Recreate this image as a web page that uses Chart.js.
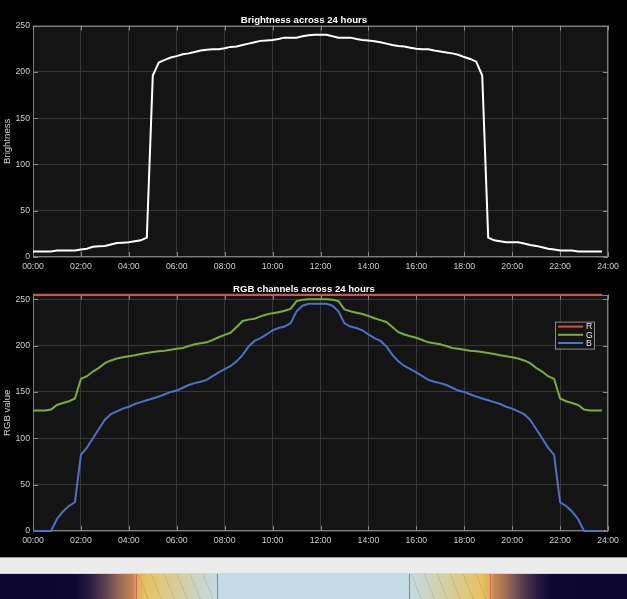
<!DOCTYPE html>
<html><head><meta charset="utf-8">
<script src="https://cdn.jsdelivr.net/npm/chart.js@4/dist/chart.umd.min.js"></script>
<style>
html,body{margin:0;padding:0;background:#000;width:627px;height:599px;overflow:hidden;}
canvas{position:absolute;left:0;}
#c1{top:0;}
#c2{top:280px;}
#sepline{position:absolute;left:0;top:557px;width:627px;height:1px;background:#9a9a9a;}
#graystrip{position:absolute;left:0;top:558px;width:627px;height:15px;background:#ececec;}
#grad{position:absolute;left:0;top:573px;width:627px;height:26px;border-top:1px solid #d4d4d4;box-sizing:border-box;
background:linear-gradient(to right,#0c0530 0px,#0e0732 75px,#2a1a40 90px,#5a4050 105px,#9a6a58 120px,#c98453 133px,#dcae5c 137px,#e5c462 146px,#d6cc98 175px,#c9d6c8 200px,#c4dbe5 217px,#c4dbe5 409px,#c9d6c8 426px,#d6cc98 452px,#e5c462 481px,#dcae5c 490px,#c98453 494px,#9a6a58 507px,#5a4050 522px,#2a1a40 537px,#0e0732 552px,#0c0530 627px);}
.hatch{position:absolute;top:0;height:100%;background:repeating-linear-gradient(68deg,rgba(0,0,0,0) 0px,rgba(0,0,0,0) 11px,rgba(185,105,75,0.24) 11px,rgba(185,105,75,0.24) 12px);}
.mark{position:absolute;top:0;height:100%;width:1px;background:#d0685a;}
</style>
</head><body>
<canvas id="c1" width="627" height="283"></canvas>
<canvas id="c2" width="627" height="277"></canvas>
<div id="sepline"></div>
<div id="graystrip"></div>
<div id="grad">
  <div class="hatch" style="left:136px;width:81px"></div>
  <div class="hatch" style="left:409px;width:81px"></div>
  <div class="mark" style="left:136px"></div>
  <div class="mark" style="left:217px"></div>
  <div class="mark" style="left:409px"></div>
  <div class="mark" style="left:490px"></div>
</div>
<script>
// ---- data ----
const times = ["00:00","00:15","00:30","00:45","01:00","01:15","01:30","01:45","02:00","02:15","02:30","02:45",
"03:00","03:15","03:30","03:45","04:00","04:15","04:30","04:45","05:00","05:15","05:30","05:45",
"06:00","06:15","06:30","06:45","07:00","07:15","07:30","07:45","08:00","08:15","08:30","08:45",
"09:00","09:15","09:30","09:45","10:00","10:15","10:30","10:45","11:00","11:15","11:30","11:45",
"12:00","12:15","12:30","12:45","13:00","13:15","13:30","13:45","14:00","14:15","14:30","14:45",
"15:00","15:15","15:30","15:45","16:00","16:15","16:30","16:45","17:00","17:15","17:30","17:45",
"18:00","18:15","18:30","18:45","19:00","19:15","19:30","19:45","20:00","20:15","20:30","20:45",
"21:00","21:15","21:30","21:45","22:00","22:15","22:30","22:45","23:00","23:15","23:30","23:45"];

const brightness = [6,6,6,6,7,7,7,7,8,9,11,11.5,
12,13.5,15,15.5,16,17,18,21,196,210,213,215.5,
217,219,220,221.5,223,224,224.5,224.5,225.5,227,227.5,229,
230.5,232,233.5,234,234.5,235.5,237,237,237,238.5,239.5,240,
240,240,238.5,237,237,237,235.5,234.5,234,233,232,230.5,
229,228,227.5,226,225,224.5,224.5,223,222,221,220,218.5,
216,214,211,196,21,18,17,16,16,16,14.5,13,
12,10.5,9,8,7,7,7,6,6,6,6,6];

const red = [255,255,255,255,255,255,255,255,255,255,255,255,
255,255,255,255,255,255,255,255,255,255,255,255,
255,255,255,255,255,255,255,255,255,255,255,255,
255,255,255,255,255,255,255,255,255,255,255,255,
255,255,255,255,255,255,255,255,255,255,255,255,
255,255,255,255,255,255,255,255,255,255,255,255,
255,255,255,255,255,255,255,255,255,255,255,255,
255,255,255,255,255,255,255,255,255,255,255,255];

const green = [130,130,130,131,136,138,140,143,164,167,172,176,
181,184,186,187.5,188.5,189.5,191,192,193,194,194.5,195.5,
196.5,197.5,199.5,201.5,202.5,203.5,206,209,211.5,214,220,226.5,
228,229,231.5,233.5,235,236,237.5,239.5,248,249.5,250,250,
250,250,249.5,248,239,237,235.5,234,232,229.5,227.5,225.5,
220,214.5,212,210,208.5,206,203.5,202.5,201.5,199.5,197.5,196.5,
195.5,194.5,194,193,192,191,189.5,188.5,187.5,186,184,181,
176,172,167,164,143,140,138,136,131,130,130,130];

const blue = [0,0,0,0,13,21,27,31,82,90,100,110,
120,126,129,132,134,137,139,141,143,145,147.5,150,
151.5,154.5,157.5,159.5,161,163,167,171,174.5,178,183,190,
199,205,208,212,216.5,219,220.5,224,237,243,245,245,
245,245,243,237,224,220.5,219,216.5,212,208,205,199,
190,183,178,174.5,171,167,163,161,159.5,157.5,154.5,151.5,
150,147.5,145,143,141,139,137,134,132,129,126,120,
110,100,90,82,31,27,21,13,0,0,0,0];

const xTickHours = [0,2,4,6,8,10,12,14,16,18,20,22,24];
const xTickLabels = ["00:00","02:00","04:00","06:00","08:00","10:00","12:00","14:00","16:00","18:00","20:00","22:00","24:00"];
const yTicks = [0,50,100,150,200,250];

// ---- styling ----
const FONT = "'Liberation Sans', Arial, Helvetica, sans-serif";
const TICK_COLOR = '#cfcfcf';
const GRID = '#383838';
const BOX = '#7c7c7c';
const PLOT_BG = '#141414';

function hoursOf(t){ const p = t.split(':'); return (+p[0]) + (+p[1])/60; }
function toXY(vals){ return vals.map((v,i)=>({x:hoursOf(times[i]), y:v})); }

const framePlugin = {
  id:'frame',
  beforeDraw(chart){
    const {ctx, chartArea:a} = chart;
    ctx.save();
    ctx.fillStyle = PLOT_BG;
    ctx.fillRect(a.left, a.top, a.right-a.left, a.bottom-a.top);
    ctx.restore();
  },
  beforeDatasetsDraw(chart){
    const {ctx, chartArea:a, scales} = chart;
    ctx.save();
    ctx.strokeStyle = BOX;
    ctx.lineWidth = 1;
    ctx.strokeRect(Math.round(a.left)+0.5, Math.round(a.top)+0.5, Math.round(a.right-a.left)-1, Math.round(a.bottom-a.top)-1);
    ctx.strokeStyle = '#8a8a8a';
    const L = 5;
    ctx.beginPath();
    scales.x.ticks.forEach(t=>{
      const px = Math.round(scales.x.getPixelForValue(t.value))+0.5;
      ctx.moveTo(px, a.bottom); ctx.lineTo(px, a.bottom-L);
      ctx.moveTo(px, a.top); ctx.lineTo(px, a.top+L);
    });
    scales.y.ticks.forEach(t=>{
      const py = Math.round(scales.y.getPixelForValue(t.value))+0.5;
      ctx.moveTo(a.left, py); ctx.lineTo(a.left+L, py);
      ctx.moveTo(a.right, py); ctx.lineTo(a.right-L, py);
    });
    ctx.stroke();
    ctx.restore();
  }
};

const legendPlugin = {
  id:'insideLegend',
  afterDatasetsDraw(chart, args, opts){
    if (!opts || !opts.show) return;
    const {ctx, chartArea:a} = chart;
    const bx = a.right - 53, by = a.top + 27, bw = 39, bh = 27;
    ctx.save();
    ctx.fillStyle = PLOT_BG;
    ctx.fillRect(bx, by, bw, bh);
    ctx.strokeStyle = '#8c8c8c';
    ctx.lineWidth = 1;
    ctx.strokeRect(bx+0.5, by+0.5, bw, bh);
    ctx.font = '8.7px ' + FONT;
    ctx.textBaseline = 'middle';
    ctx.textAlign = 'left';
    chart.data.datasets.forEach((ds,i)=>{
      const y = by + 5 + i*8.2;
      ctx.strokeStyle = ds.borderColor;
      ctx.lineWidth = 2;
      ctx.beginPath(); ctx.moveTo(bx+3, y); ctx.lineTo(bx+28, y); ctx.stroke();
      ctx.fillStyle = '#e8e8e8';
      ctx.fillText(ds.label, bx+31, y+0.5);
    });
    ctx.restore();
  }
};

function makeOptions(titleText, yTitle, yMax, titleTop){
  return {
    responsive:false,
    animation:false,
    events:[],
    layout:{padding:{left:0,right:19,top:0,bottom:0}},
    elements:{point:{radius:0}, line:{tension:0, borderWidth:2}},
    plugins:{
      legend:{display:false},
      tooltip:{enabled:false},
      title:{display:true, text:titleText, color:'#ffffff',
        font:{family:FONT, size:9.6, weight:'bold', lineHeight:1},
        padding:{top:titleTop, bottom:0}},
      insideLegend:{show: yMax === 255}
    },
    scales:{
      x:{type:'linear', min:0, max:24,
        afterBuildTicks:s=>{ s.ticks = xTickHours.map(v=>({value:v})); },
        afterFit:s=>{ s.height = 26; },
        ticks:{color:TICK_COLOR, font:{family:FONT,size:8.7}, padding:4, maxRotation:0, autoSkip:false,
          callback:(v,i)=>xTickLabels[i]},
        grid:{color:GRID, drawTicks:false},
        border:{display:false}
      },
      y:{min:0, max:yMax,
        afterBuildTicks:s=>{ s.ticks = yTicks.map(v=>({value:v})); },
        afterFit:s=>{ s.width = 33; },
        ticks:{color:TICK_COLOR, font:{family:FONT,size:8.7}, padding:3, autoSkip:false},
        grid:{color:GRID, drawTicks:false},
        border:{display:false},
        title:{display:true, text:yTitle, color:TICK_COLOR, font:{family:FONT,size:9.6}, padding:{top:2,bottom:0}}
      }
    }
  };
}

new Chart(document.getElementById('c1'), {
  type:'line',
  data:{datasets:[{label:'Brightness', data:toXY(brightness), borderColor:'#ffffff', borderWidth:2, clip:false}]},
  options:makeOptions('Brightness across 24 hours','Brightness',250,16),
  plugins:[framePlugin, legendPlugin]
});

new Chart(document.getElementById('c2'), {
  type:'line',
  data:{datasets:[
    {label:'R', data:toXY(red), borderColor:'#d9503f', borderWidth:1.6, clip:false},
    {label:'G', data:toXY(green), borderColor:'#7aae34', borderWidth:2, clip:false},
    {label:'B', data:toXY(blue), borderColor:'#4f70c6', borderWidth:2, clip:false}
  ]},
  options:makeOptions('RGB channels across 24 hours','RGB value',255,5),
  plugins:[framePlugin, legendPlugin]
});
</script>
</body></html>
